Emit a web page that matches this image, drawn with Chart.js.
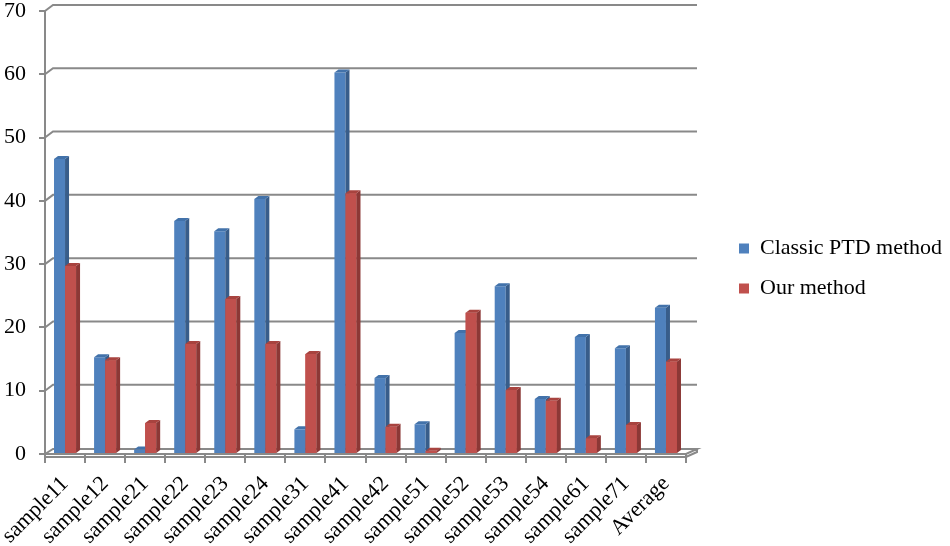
<!DOCTYPE html>
<html>
<head>
<meta charset="utf-8">
<script src="https://cdn.jsdelivr.net/npm/chart.js@4"></script>
<style>
  html, body { margin: 0; padding: 0; background: #fff; }
  #wrap { width: 950px; height: 546px; position: relative; }
</style>
</head>
<body>
<div id="wrap"><canvas id="chart"></canvas></div>
<script>
// --- data ---
const categories = ['sample11', 'sample12', 'sample21', 'sample22', 'sample23', 'sample24', 'sample31', 'sample41',
  'sample42', 'sample51', 'sample52', 'sample53', 'sample54', 'sample61', 'sample71', 'Average'];
const classicPTD = [46.6, 15.3, 0.7, 36.8, 35.2, 40.3, 3.9, 60.3, 12.0, 4.7, 19.1, 26.5, 8.7, 18.5, 16.7, 23.1];
const ourMethod = [29.7, 14.8, 4.9, 17.4, 24.5, 17.4, 15.8, 41.2, 4.3, 0.5, 22.3, 10.1, 8.4, 2.5, 4.6, 14.6];
const yTicks = [0, 10, 20, 30, 40, 50, 60, 70];

const FONT = "'Liberation Serif', 'Times New Roman', serif";
const GRID = '#898989';

// side / top faces for the excel-like 3d look
const faces = [
  { side: '#385d8a', top: '#4272aa' },
  { side: '#8c3836', top: '#a8433f' }
];
const DX = 4, DY = 3;

function drawFaces(ctx, el, f) {
  const p = el.getProps(['x', 'y', 'base', 'width'], true);
  const l = p.x - p.width / 2, r = p.x + p.width / 2;
  ctx.fillStyle = f.side;
  ctx.beginPath();
  ctx.moveTo(r, p.y); ctx.lineTo(r + DX, p.y - DY);
  ctx.lineTo(r + DX, p.base - DY); ctx.lineTo(r, p.base);
  ctx.closePath(); ctx.fill();
  ctx.fillStyle = f.top;
  ctx.beginPath();
  ctx.moveTo(l, p.y); ctx.lineTo(l + DX, p.y - DY);
  ctx.lineTo(r + DX, p.y - DY); ctx.lineTo(r, p.y);
  ctx.closePath(); ctx.fill();
}

const depth3d = {
  id: 'depth3d',
  beforeDatasetsDraw(chart) {
    const ctx = chart.ctx, ys = chart.scales.y, a = chart.chartArea;
    const L = a.left, R = a.right;
    ctx.save();
    ctx.strokeStyle = GRID;
    ctx.lineWidth = 2;
    ys.ticks.forEach(t => {
      const y = ys.getPixelForValue(t.value);
      ctx.beginPath();
      if (t.value === 0) {
        // floor slab
        ctx.moveTo(L, y); ctx.lineTo(L + 8, y - 5); ctx.lineTo(R + 11, y - 5);
        ctx.lineTo(R, y); ctx.lineTo(L, y);
        ctx.moveTo(L, y + 3); ctx.lineTo(R, y + 3); ctx.lineTo(R + 11, y - 2); ctx.lineTo(R + 11, y - 5);
        ctx.moveTo(R, y); ctx.lineTo(R, y + 3);
      } else {
        ctx.moveTo(L, y); ctx.lineTo(L + 8, y - 6); ctx.lineTo(R + 11, y - 6);
      }
      ctx.stroke();
    });
    ctx.restore();
  },
  afterDatasetsDraw(chart) {
    const ctx = chart.ctx;
    const metas = [chart.getDatasetMeta(0), chart.getDatasetMeta(1)];
    ctx.save();
    categories.forEach((c, i) => {
      metas.forEach((m, d) => {
        const el = m.data[i];
        if (d > 0) el.draw(ctx);
        drawFaces(ctx, el, faces[d]);
      });
    });
    ctx.restore();
  }
};

new Chart(document.getElementById('chart'), {
  type: 'bar',
  data: {
    labels: categories,
    datasets: [
      { label: 'Classic PTD method', data: classicPTD, backgroundColor: '#4f81bd', borderWidth: 0 },
      { label: 'Our method', data: ourMethod, backgroundColor: '#c0504d', borderWidth: 0 }
    ]
  },
  options: {
    responsive: true,
    maintainAspectRatio: false,
    animation: false,
    categoryPercentage: 0.55,
    barPercentage: 1.0,
    layout: { padding: { top: -9, right: 0, bottom: 0, left: 0 } },
    plugins: {
      tooltip: { enabled: false },
      legend: {
        position: 'right',
        maxWidth: 229,
        labels: {
          boxWidth: 10,
          boxHeight: 10,
          padding: 18,
          color: '#000',
          font: { family: FONT, size: 22 }
        }
      }
    },
    scales: {
      x: {
        grid: { drawOnChartArea: false, drawTicks: true, tickLength: 9, color: GRID, lineWidth: 2, offset: true },
        border: { display: false },
        ticks: {
          autoSkip: false, minRotation: 45, maxRotation: 45, padding: 8, labelOffset: 0,
          color: '#000', font: { family: FONT, size: 22 }
        },
        afterFit(s) { s.height = 92; s.paddingLeft = 0; s.paddingRight = 0; }
      },
      y: {
        min: 0, max: 70,
        afterBuildTicks(s) { s.ticks = yTicks.map(v => ({ value: v })); },
        grid: { drawOnChartArea: false, drawTicks: true, tickLength: 6, color: GRID, lineWidth: 2 },
        border: { display: true, color: GRID, width: 2 },
        ticks: { padding: 13, color: '#000', font: { family: FONT, size: 22 } },
        afterFit(s) { s.width = 45; s.paddingTop = 11; s.paddingBottom = 0; }
      },
      yr: {
        type: 'linear', position: 'right', display: true,
        grid: { display: false }, border: { display: false }, ticks: { display: false },
        afterFit(s) { s.width = 35; }
      }
    }
  },
  plugins: [depth3d]
});
</script>
</body>
</html>
